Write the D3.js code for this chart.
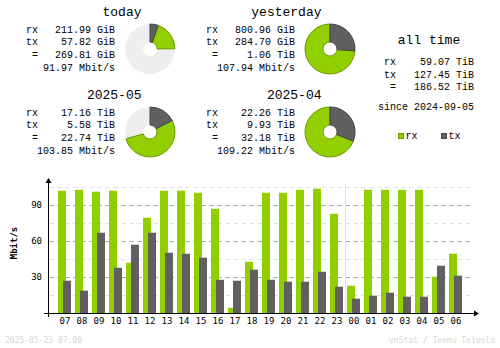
<!DOCTYPE html>
<html><head><meta charset="utf-8">
<script src="https://cdn.jsdelivr.net/npm/d3@7"></script>
<style>
html,body{margin:0;padding:0;background:#fff;}
svg{display:block;}
text{font-family:"DejaVu Sans Mono",monospace;fill:#000;}
text.big{font-family:"Liberation Mono","DejaVu Sans Mono",monospace;}
</style></head>
<body><div id="chart"></div>
<script>
// ---- data ----
const hours = ["07","08","09","10","11","12","13","14","15","16","17","18","19","20","21","22","23","00","01","02","03","04","05","06"];
const rxRate = [101.9,102.7,101.1,101.9,41.9,79.4,101.9,101.9,100.2,86.9,4.4,42.7,100.2,100.2,102.7,103.6,82.7,22.7,102.7,102.7,102.7,102.7,30.2,49.4];
const txRate = [26.9,18.6,66.9,37.7,56.9,66.9,50.2,49.4,46.1,27.7,26.9,36.1,27.7,26.1,26.1,34.4,21.9,11.9,14.4,16.9,13.6,13.6,39.4,31.1];
const yTicks = [30,60,90];
const yMinor = [15,45,75,105];

const blockTitles = ["today","yesterday","2025-05","2025-04"];
const blockRx = ["211.99 GiB","800.96 GiB","17.16 TiB","22.26 TiB"];
const blockTx = ["57.82 GiB","284.70 GiB","5.58 TiB","9.93 TiB"];
const blockTotal = ["269.81 GiB","1.06 TiB","22.74 TiB","32.18 TiB"];
const blockRate = ["91.97 Mbit/s","107.94 Mbit/s","103.85 Mbit/s","109.22 Mbit/s"];
const blockRxNum = [211.99, 800.96, 17.16, 22.26];
const blockTxNum = [57.82, 284.70, 5.58, 9.93];

const allTimeRx = "59.07 TiB", allTimeTx = "127.45 TiB", allTimeTotal = "186.52 TiB";
const sinceText = "since 2024-09-05";
const dateText = "2025-05-23 07:00";
const creditText = "vnStat / Teemu Toivola";

// ---- colours ----
const cRx = "#92cf00", cRxD = "#6b9a00", cTx = "#606060", cTxD = "#444444";

const svg = d3.select("#chart").append("svg").attr("width",500).attr("height",348);

// ---- summary blocks ----
const offs = [[0,0],[180,0],[0,83],[180,83]];
const arc = d3.arc().innerRadius(7).outerRadius(25);
blockTitles.forEach((t,i)=>{
  const [dx,dy] = offs[i];
  const g = svg.append("g").attr("transform",`translate(${dx},${dy})`);
  g.append("text").attr("class","big").attr("x",141.5).attr("y",16).attr("text-anchor","end").style("font-size","13px").text(t);
  const rows = [["rx",blockRx[i],33],["tx",blockTx[i],45],["=",blockTotal[i],57.5]];
  rows.forEach(r=>{
    g.append("text").attr("class","big").attr("x",38).attr("y",r[2]).attr("text-anchor","end").style("font-size","10px").text(r[0]);
    g.append("text").attr("class","big").attr("x",115).attr("y",r[2]).attr("text-anchor","end").style("font-size","10px").text(r[1]);
  });
  g.append("text").attr("class","big").attr("x",115).attr("y",71).attr("text-anchor","end").style("font-size","10px").text(blockRate[i]);
  // pie
  const pair = i<2 ? [0,1] : [2,3];
  const maxTot = d3.max(pair, k=>blockRxNum[k]+blockTxNum[k]);
  const tot = blockRxNum[i]+blockTxNum[i];
  const full = 2*Math.PI*tot/maxTot;
  const txA = full*blockTxNum[i]/tot;
  const pg = g.append("g").attr("transform","translate(150,49)");
  pg.append("path").attr("d",arc({startAngle:0,endAngle:2*Math.PI})).attr("fill","#eeeeee");
  pg.append("path").attr("d",arc({startAngle:txA,endAngle:full})).attr("fill",cRx).attr("stroke",cRxD).attr("stroke-width",1);
  pg.append("path").attr("d",arc({startAngle:0,endAngle:txA})).attr("fill",cTx).attr("stroke",cTxD).attr("stroke-width",1);
});

// ---- all time ----
const at = svg.append("g");
at.append("text").attr("class","big").attr("x",429).attr("y",43.5).attr("text-anchor","middle").style("font-size","13px").text("all time");
[["rx",allTimeRx,64.5],["tx",allTimeTx,77.5],["=",allTimeTotal,90]].forEach(r=>{
  at.append("text").attr("class","big").attr("x",396).attr("y",r[2]).attr("text-anchor","end").style("font-size","10px").text(r[0]);
  at.append("text").attr("class","big").attr("x",474).attr("y",r[2]).attr("text-anchor","end").style("font-size","10px").text(r[1]);
});
at.append("text").attr("class","big").attr("x",426).attr("y",110).attr("text-anchor","middle").style("font-size","10px").text(sinceText);
// legend
[["rx",cRx,cRxD,398.5],["tx",cTx,cTxD,441.5]].forEach(l=>{
  at.append("rect").attr("x",l[3]).attr("y",133.5).attr("width",5).attr("height",5).attr("fill",l[1]).attr("stroke",l[2]);
  at.append("text").attr("class","big").attr("x",l[3]+7).attr("y",139).style("font-size","10px").text(l[0]);
});

// ---- bar chart ----
const x = d3.scaleBand().domain(hours).range([56,464]).paddingInner(0).paddingOuter(0);
const y = d3.scaleLinear().domain([0,105]).range([313,187]);
const chart = svg.append("g");

// grid
yMinor.forEach(v=>{
  chart.append("line").attr("x1",49).attr("x2",473).attr("y1",Math.round(y(v))+0.5).attr("y2",Math.round(y(v))+0.5)
    .attr("stroke","#e2e2e2").attr("stroke-dasharray","5,3");
});
yTicks.forEach(v=>{
  chart.append("line").attr("x1",49).attr("x2",473).attr("y1",Math.round(y(v))+0.5).attr("y2",Math.round(y(v))+0.5)
    .attr("stroke","#b0b0b0").attr("stroke-dasharray","5,3");
});
// day separator between 23 and 00
const sepX = x("00") + 0.5;
chart.append("line").attr("x1",sepX).attr("x2",sepX).attr("y1",184).attr("y2",313).attr("stroke","#e0e0e0");

// bars
chart.selectAll("rect.rx").data(hours).enter().append("rect")
  .attr("x",(d)=>x(d)+2).attr("width",8)
  .attr("y",(d,i)=>y(rxRate[i])).attr("height",(d,i)=>y(0)-y(rxRate[i])).attr("fill",cRx);
chart.selectAll("rect.tx").data(hours).enter().append("rect")
  .attr("x",(d)=>x(d)+7).attr("width",8)
  .attr("y",(d,i)=>y(txRate[i])).attr("height",(d,i)=>y(0)-y(txRate[i])).attr("fill",cTx);

// axes
chart.append("line").attr("x1",48.5).attr("x2",48.5).attr("y1",181).attr("y2",317).attr("stroke","#000");
chart.append("line").attr("x1",44).attr("x2",475).attr("y1",313.5).attr("y2",313.5).attr("stroke","#000");
chart.append("path").attr("d","M48.5,178 L45.5,183 L51.5,183 Z").attr("fill","#000");
chart.append("path").attr("d","M479,313.5 L474,310.5 L474,316.5 Z").attr("fill","#000");

// tick labels
yTicks.forEach(v=>{
  chart.append("text").attr("x",42).attr("y",y(v)+3.3).attr("text-anchor","end").style("font-size","9px").text(v);
});
hours.forEach(h=>{
  chart.append("text").attr("x",x(h)+x.bandwidth()/2+0.5).attr("y",324).attr("text-anchor","middle").style("font-size","9px").text(h);
});
chart.append("text").attr("transform","translate(17,243) rotate(-90)").attr("text-anchor","middle")
  .style("font-size","9px").style("font-weight","bold").text("Mbit/s");

// footer
svg.append("text").attr("x",5).attr("y",343).style("font-size","8px").style("fill","#d6d6d6").text(dateText);
svg.append("text").attr("x",495).attr("y",343).attr("text-anchor","end").style("font-size","8px").style("fill","#d6d6d6").text(creditText);
</script></body></html>
